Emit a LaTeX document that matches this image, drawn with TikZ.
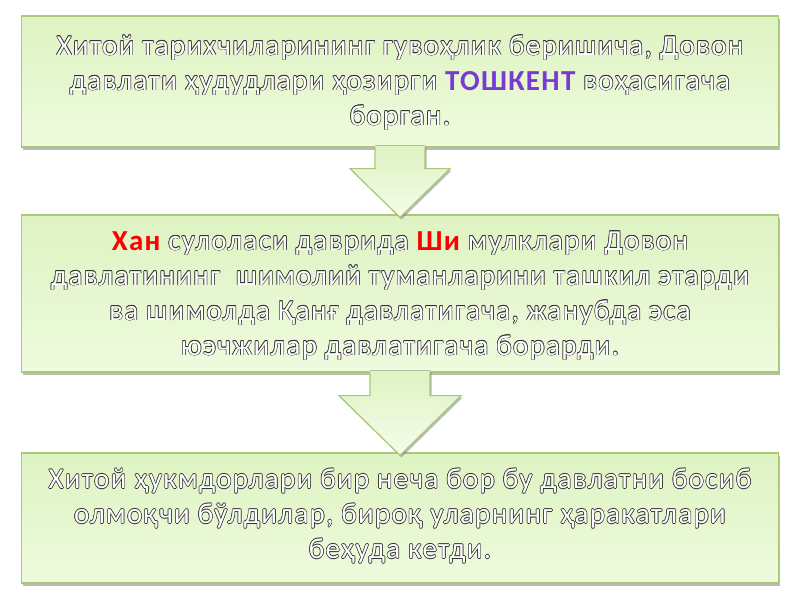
\documentclass[tikz,border=0pt]{standalone}
\usepackage{fontspec}
\setmainfont{Carlito}
\newfontfamily\spacedfont[LetterSpace=4.5]{Carlito}
\usetikzlibrary{calc,shadows}
\definecolor{boxtop}{RGB}{222,243,194}
\definecolor{boxbot}{RGB}{238,251,221}
\definecolor{boxline}{RGB}{170,200,120}
\definecolor{outl}{RGB}{50,50,50}
\definecolor{kpurple}{RGB}{120,58,208}
\definecolor{kred}{RGB}{255,0,0}
\newif\ifoutlinepass
\newcommand\hlword[2]{\ifoutlinepass\phantom{\bfseries #2}\else{\bfseries\color{#1}#2}\fi}
\tikzset{
  box/.style={draw=boxline, line width=1.2pt, top color=boxtop, bottom color=boxbot,
    minimum width=757pt, minimum height=#1, inner sep=0pt,
    drop shadow={shadow xshift=1.5pt, shadow yshift=-3pt, opacity=.45, fill=black!60}},
  txt/.style={align=center, font=\spacedfont\fontsize{29}{35}\selectfont, inner sep=0pt},
  arrfill/.style={top color=boxtop, bottom color=boxbot!60!white,
    drop shadow={shadow xshift=1.5pt, shadow yshift=-2pt, opacity=.45, fill=black!60}},
  arrline/.style={draw=boxline, line width=1.2pt, line join=miter},
}
\newcommand\outlinedtext[3]{%
  \foreach \dx/\dy in {0.6/0,-0.6/0,0/0.6,0/-0.6,0.45/0.45,-0.45/0.45,0.45/-0.45,-0.45/-0.45}{%
    \outlinepasstrue
    \node[txt, text=outl] at ([shift={(\dx pt,\dy pt)}]#2) {#3};
  }%
  \outlinepassfalse
  \node[txt, text=white] (#1) at (#2) {#3};
}
\begin{document}
\begin{tikzpicture}[x=1pt,y=-1pt]
\useasboundingbox (0,0) rectangle (800,600);
% boxes
\node[box=131pt] (b1) at (400,81.5) {};
\node[box=157pt] (b2) at (400,293.5) {};
\node[box=130pt] (b3) at (400,518) {};
% arrow 1
\coordinate (a1s) at (b1.south);
\fill[arrfill] ($(a1s)+(-25,-2)$) -- ($(a1s)+(-25,21)$) -- ($(a1s)+(-50,21)$) -- ($(b2.north)+(0,3)$)
  -- ($(a1s)+(50,21)$) -- ($(a1s)+(25,21)$) -- ($(a1s)+(25,-2)$) -- cycle;
\draw[arrline] ($(a1s)+(-25,0)$) -- ($(a1s)+(-25,21)$) -- ($(a1s)+(-50,21)$) -- ($(b2.north)+(0,3)$)
  -- ($(a1s)+(50,21)$) -- ($(a1s)+(25,21)$) -- ($(a1s)+(25,0)$);
% arrow 2
\coordinate (a2s) at (b2.south);
\fill[arrfill] ($(a2s)+(-30,-2)$) -- ($(a2s)+(-30,23)$) -- ($(a2s)+(-61,23)$) -- ($(b3.north)+(0,3)$)
  -- ($(a2s)+(61,23)$) -- ($(a2s)+(30,23)$) -- ($(a2s)+(30,-2)$) -- cycle;
\draw[arrline] ($(a2s)+(-30,0)$) -- ($(a2s)+(-30,23)$) -- ($(a2s)+(-61,23)$) -- ($(b3.north)+(0,3)$)
  -- ($(a2s)+(61,23)$) -- ($(a2s)+(30,23)$) -- ($(a2s)+(30,0)$);
% texts
\outlinedtext{t1}{$(b1.center)+(0,1)$}{Хитой тарихчиларининг гувоҳлик беришича, Довон\\давлати ҳудудлари ҳозирги \hlword{kpurple}{ТОШКЕНТ} воҳасигача\\борган.}
\outlinedtext{t2}{$(b2.center)+(0,2)$}{\hlword{kred}{Хан} сулоласи даврида \hlword{kred}{Ши} мулклари Довон\\давлатининг\ \ шимолий туманларини ташкил этарди\\ва шимолда Қанғ давлатигача, жанубда эса\\юэчжилар давлатигача борарди.}
\outlinedtext{t3}{$(b3.center)+(0,-2)$}{Хитой ҳукмдорлари бир неча бор бу давлатни босиб\\олмоқчи бўлдилар, бироқ уларнинг ҳаракатлари\\беҳуда кетди.}
\end{tikzpicture}
\end{document}
